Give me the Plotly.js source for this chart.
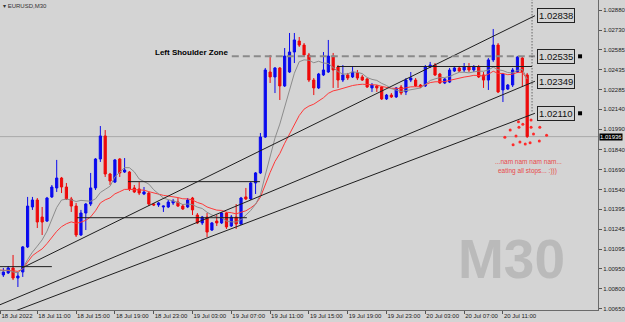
<!DOCTYPE html>
<html><head><meta charset="utf-8">
<script src="https://cdn.plot.ly/plotly-3.0.1.min.js"></script>
<style>html,body{margin:0;padding:0;background:#d4d4d4;}#chart{width:625px;height:322px;}</style>
</head><body><div id="chart"></div>
<script>
// EURUSD M30 candles, one per half hour, starting 18 Jul 2022 07:00
const openP = [1.00911,1.00904,1.00919,1.00956,1.00881,1.00926,1.01113,1.01411,1.01463,1.01336,
1.01306,1.01486,1.01553,1.01627,1.01560,1.01471,1.01418,1.01202,1.01366,1.01433,
1.01553,1.01769,1.01941,1.01657,1.01597,1.01769,1.01672,1.01672,1.01553,1.01545,
1.01508,1.01515,1.01433,1.01426,1.01411,1.01411,1.01441,1.01448,1.01418,1.01411,
1.01478,1.01351,1.01292,1.01336,1.01239,1.01306,1.01292,1.01366,1.01269,1.01336,
1.01284,1.01486,1.01471,1.01590,1.01665,1.01933,1.02418,1.02381,1.02448,1.02314,
1.02418,1.02567,1.02649,1.02619,1.02545,1.02358,1.02299,1.02396,1.02418,1.02537,
1.02455,1.02358,1.02396,1.02381,1.02411,1.02381,1.02366,1.02299,1.02314,1.02306,
1.02217,1.02246,1.02232,1.02306,1.02269,1.02358,1.02358,1.02321,1.02314,1.02455,
1.02470,1.02403,1.02336,1.02343,1.02425,1.02448,1.02433,1.02455,1.02433,1.02455,
1.02396,1.02358,1.02508,1.02619,1.02284,1.02291,1.02321,1.02418,1.02522,1.02396];
const highP = [1.00971,1.00956,1.00971,1.01053,1.00926,1.01120,1.01486,1.01486,1.01478,1.01411,
1.01486,1.01575,1.01762,1.01635,1.01590,1.01486,1.01441,1.01389,1.01441,1.01665,
1.01776,1.02015,1.01985,1.01665,1.01769,1.01776,1.01776,1.01679,1.01575,1.01597,
1.01560,1.01523,1.01441,1.01448,1.01420,1.01463,1.01471,1.01478,1.01433,1.01478,
1.01486,1.01366,1.01344,1.01366,1.01299,1.01351,1.01374,1.01374,1.01351,1.01433,
1.01486,1.01553,1.01597,1.01672,1.01963,1.02448,1.02545,1.02455,1.02455,1.02597,
1.02709,1.02709,1.02679,1.02634,1.02560,1.02373,1.02411,1.02567,1.02657,1.02560,
1.02470,1.02470,1.02411,1.02455,1.02433,1.02396,1.02373,1.02336,1.02321,1.02314,
1.02254,1.02261,1.02306,1.02321,1.02373,1.02418,1.02373,1.02328,1.02470,1.02493,
1.02485,1.02411,1.02373,1.02448,1.02455,1.02463,1.02485,1.02485,1.02470,1.02470,
1.02418,1.02522,1.02739,1.02634,1.02411,1.02328,1.02448,1.02537,1.02537,1.02411];
const lowP = [1.00896,1.00889,1.00911,1.00866,1.00814,1.00889,1.01105,1.01389,1.01254,1.01202,
1.01299,1.01478,1.01523,1.01515,1.01463,1.01374,1.01187,1.01195,1.01239,1.01418,
1.01538,1.01747,1.01635,1.01575,1.01590,1.01635,1.01665,1.01530,1.01515,1.01500,
1.01500,1.01418,1.01418,1.01411,1.01374,1.01403,1.01426,1.01411,1.01389,1.01403,
1.01351,1.01284,1.01277,1.01187,1.01232,1.01269,1.01284,1.01247,1.01262,1.01247,
1.01277,1.01463,1.01463,1.01508,1.01657,1.01926,1.02336,1.02261,1.02209,1.02306,
1.02411,1.02485,1.02605,1.02530,1.02343,1.02246,1.02291,1.02388,1.02411,1.02299,
1.02299,1.02343,1.02358,1.02373,1.02358,1.02351,1.02299,1.02269,1.02269,1.02209,
1.02209,1.02224,1.02224,1.02246,1.02246,1.02343,1.02306,1.02299,1.02306,1.02448,
1.02388,1.02330,1.02328,1.02336,1.02418,1.02418,1.02418,1.02418,1.02418,1.02373,
1.02299,1.02284,1.02493,1.02261,1.02194,1.02284,1.02306,1.02411,1.02306,1.01926];
const closeP = [1.00941,1.00926,1.00956,1.00881,1.00896,1.01113,1.01418,1.01463,1.01299,1.01299,
1.01478,1.01560,1.01627,1.01560,1.01471,1.01418,1.01202,1.01366,1.01433,1.01553,
1.01769,1.01941,1.01657,1.01605,1.01762,1.01665,1.01687,1.01545,1.01523,1.01515,
1.01523,1.01433,1.01426,1.01441,1.01418,1.01448,1.01456,1.01418,1.01396,1.01463,
1.01389,1.01292,1.01336,1.01224,1.01292,1.01292,1.01366,1.01262,1.01336,1.01284,
1.01478,1.01471,1.01590,1.01665,1.01933,1.02433,1.02381,1.02448,1.02314,1.02537,
1.02567,1.02657,1.02619,1.02545,1.02358,1.02299,1.02403,1.02433,1.02537,1.02433,
1.02358,1.02396,1.02373,1.02418,1.02373,1.02358,1.02306,1.02321,1.02299,1.02217,
1.02246,1.02232,1.02299,1.02261,1.02358,1.02373,1.02314,1.02306,1.02455,1.02470,
1.02396,1.02336,1.02366,1.02433,1.02448,1.02425,1.02455,1.02433,1.02455,1.02381,
1.02358,1.02508,1.02619,1.02269,1.02403,1.02321,1.02433,1.02530,1.02418,1.01936];

// time axis labels (bar number of each labelled time)
const tickBars = [0.4,8,16,24,32,40,48,56,64,72,80,88,96,104];
const tickLabels = ["18 Jul 2022","18 Jul 11:00","18 Jul 15:00","18 Jul 19:00","18 Jul 23:00",
"19 Jul 03:00","19 Jul 07:00","19 Jul 11:00","19 Jul 15:00","19 Jul 19:00","19 Jul 23:00",
"20 Jul 03:00","20 Jul 07:00","20 Jul 11:00"];
const priceTicks = [1.02880,1.02730,1.02585,1.02435,1.02285,1.02140,1.01990,1.01840,1.01690,
1.01540,1.01395,1.01245,1.01095,1.00950,1.00800,1.00650];
const currentPrice = 1.01936;

// drawn objects (bar, price)
const trendA = {bars:[4.85,110.6], prices:[1.00956,1.02838]};
const trendB = {bars:[0,110.6], prices:[1.00677,1.02349]};
const trendC = {bars:[3.4,110.6], prices:[1.00635,1.02110]};
const shoulderZone = {bars:[48.1,110.6], price:1.02535};
const levelLines = [
  {bars:[69.8,110.0], price:1.02459},
  {bars:[26.7,53.9], price:1.01600},
  {bars:[16.2,51.2], price:1.01331},
  {bars:[0,11.0], price:1.00966}
];
const labelLevels = [1.02838,1.02535,1.02349,1.02110];
const markedLevels = [1.02535,1.02110];
const dotBars = [107.2,108.1,109.8,107.3,109.8,111.6,105.5,110.3,113.0,104.4,106.7,111.5,107.5,108.6,109.6,106.1];
const dotPrices = [1.02047,1.02028,1.02060,1.02005,1.02005,1.02005,1.01985,1.01955,1.01946,1.01931,1.01941,1.01903,1.01896,1.01881,1.01891,1.01876];

const bars = closeP.map((_, i) => i);

// indicators: SMA(8) grey, EMA(18) red
function sma(arr, n){ return arr.map((_, i) => { const s = arr.slice(Math.max(0, i-n+1), i+1); return s.reduce((a,b)=>a+b,0)/s.length; }); }
function ema(arr, n){ const a = 2/(n+1); let e = arr[0]; return arr.map(v => (e = e + a*(v-e))); }
const maGrey = sma(closeP, 8);
const maRed = ema(closeP, 18);

const lineCol = '#1e1e1e';
const traces = [
  {type:'scatter', mode:'lines', x:bars, y:maRed, line:{color:'#ff3838', width:1}, hoverinfo:'skip'},
  {type:'scatter', mode:'lines', x:bars, y:maGrey, line:{color:'#8c8c8c', width:1}, hoverinfo:'skip'},
  {type:'candlestick', x:bars, open:openP, high:highP, low:lowP, close:closeP,
   increasing:{line:{color:'#0a0aee', width:1}, fillcolor:'#0a0aee'},
   decreasing:{line:{color:'#ee0a0a', width:1}, fillcolor:'#ee0a0a'},
   whiskerwidth:0, hoverinfo:'skip'}
];
[trendA, trendB, trendC].forEach(t => traces.push({type:'scatter', mode:'lines', x:t.bars, y:t.prices, line:{color:lineCol, width:1}, hoverinfo:'skip'}));
levelLines.forEach(l => traces.push({type:'scatter', mode:'lines', x:l.bars, y:[l.price,l.price], line:{color:lineCol, width:1}, hoverinfo:'skip'}));
traces.push({type:'scatter', mode:'lines', x:shoulderZone.bars, y:[shoulderZone.price, shoulderZone.price], line:{color:'#8a8a8a', width:2, dash:'7px,4px'}, hoverinfo:'skip'});
traces.push({type:'scatter', mode:'lines', x:[110.0,110.0], y:[1.0296,1.02110], line:{color:'#333', width:1, dash:'1px,2px'}, hoverinfo:'skip'});
traces.push({type:'scatter', mode:'markers', x:markedLevels.map(()=>119.9), y:markedLevels, marker:{symbol:'square', size:4, color:'#000'}, hoverinfo:'skip'});
traces.push({type:'scatter', mode:'markers', x:dotBars, y:dotPrices, marker:{size:3, color:'#ff2a2a'}, hoverinfo:'skip'});

const annotations = labelLevels.map(p => ({x:111.0, y:p, xref:'x', yref:'y', xanchor:'left', yanchor:'middle',
  text:p.toFixed(5), showarrow:false, font:{family:'Liberation Sans, Arial, sans-serif', size:9.5, color:'#111'},
  bordercolor:'#222', borderwidth:1, borderpad:1}));
annotations.push({x:31.9, y:1.02567, xref:'x', yref:'y', xanchor:'left', yanchor:'middle', text:'<b>Left Shoulder Zone</b>',
  showarrow:false, font:{family:'Liberation Sans, Arial, sans-serif', size:8, color:'#000'}});
annotations.push({x:109.3, y:1.01754, xref:'x', yref:'y', xanchor:'center', yanchor:'middle', text:'...nam nam nam nam...',
  showarrow:false, font:{family:'Liberation Sans, Arial, sans-serif', size:6.5, color:'#e84a4a'}});
annotations.push({x:109.1, y:1.01682, xref:'x', yref:'y', xanchor:'center', yanchor:'middle', text:'eating all stops... :)))',
  showarrow:false, font:{family:'Liberation Sans, Arial, sans-serif', size:6.5, color:'#e84a4a'}});
annotations.push({x:0.856, y:0.165, xref:'paper', yref:'paper', xanchor:'center', yanchor:'middle', text:'M30',
  showarrow:false, font:{family:'Liberation Sans, Arial, sans-serif', size:55, color:'#bababa', weight:'bold'}});
annotations.push({x:0, y:1, xref:'paper', yref:'paper', xanchor:'left', yanchor:'top', xshift:1, yshift:-1, text:'\u25BE EURUSD,M30',
  showarrow:false, font:{family:'Liberation Sans, Arial, sans-serif', size:6, color:'#333'}});
annotations.push({x:1, y:currentPrice, xref:'paper', yref:'y', xanchor:'left', yanchor:'middle', xshift:1, text:currentPrice.toFixed(5),
  showarrow:false, bgcolor:'#000', borderpad:0, font:{family:'Liberation Sans, Arial, sans-serif', size:6, color:'#fff'}});

const layout = {
  width:625, height:322,
  margin:{l:0, r:27, t:0, b:12},
  paper_bgcolor:'#d4d4d4', plot_bgcolor:'#d4d4d4',
  showlegend:false, hovermode:false, boxgap:0.35,
  xaxis:{range:[0.31,123.6], showgrid:false, zeroline:false, showline:true, linecolor:'#6a6a6a', linewidth:1,
    ticks:'outside', ticklen:3, tickcolor:'#555', tickvals:tickBars, ticktext:tickLabels, ticklabelposition:'outside right',
    tickangle:0, ticklabeloverflow:'allow',
    tickfont:{family:'Liberation Sans, Arial, sans-serif', size:6, color:'#222'}, rangeslider:{visible:false}, fixedrange:true},
  yaxis:{range:[1.006425,1.029551], side:'right', showgrid:false, zeroline:false, showline:true, linecolor:'#6a6a6a', linewidth:1,
    ticks:'outside', ticklen:3, tickcolor:'#555', tickvals:priceTicks, ticktext:priceTicks.map(v=>v.toFixed(5)),
    tickfont:{family:'Liberation Sans, Arial, sans-serif', size:6, color:'#222'}, fixedrange:true},
  shapes:[{type:'line', xref:'paper', x0:0, x1:1, yref:'y', y0:currentPrice, y1:currentPrice, line:{color:'#a9a9a9', width:1}, layer:'below'}],
  annotations:annotations
};
Plotly.newPlot('chart', traces, layout, {displayModeBar:false, staticPlot:true});
</script></body></html>
